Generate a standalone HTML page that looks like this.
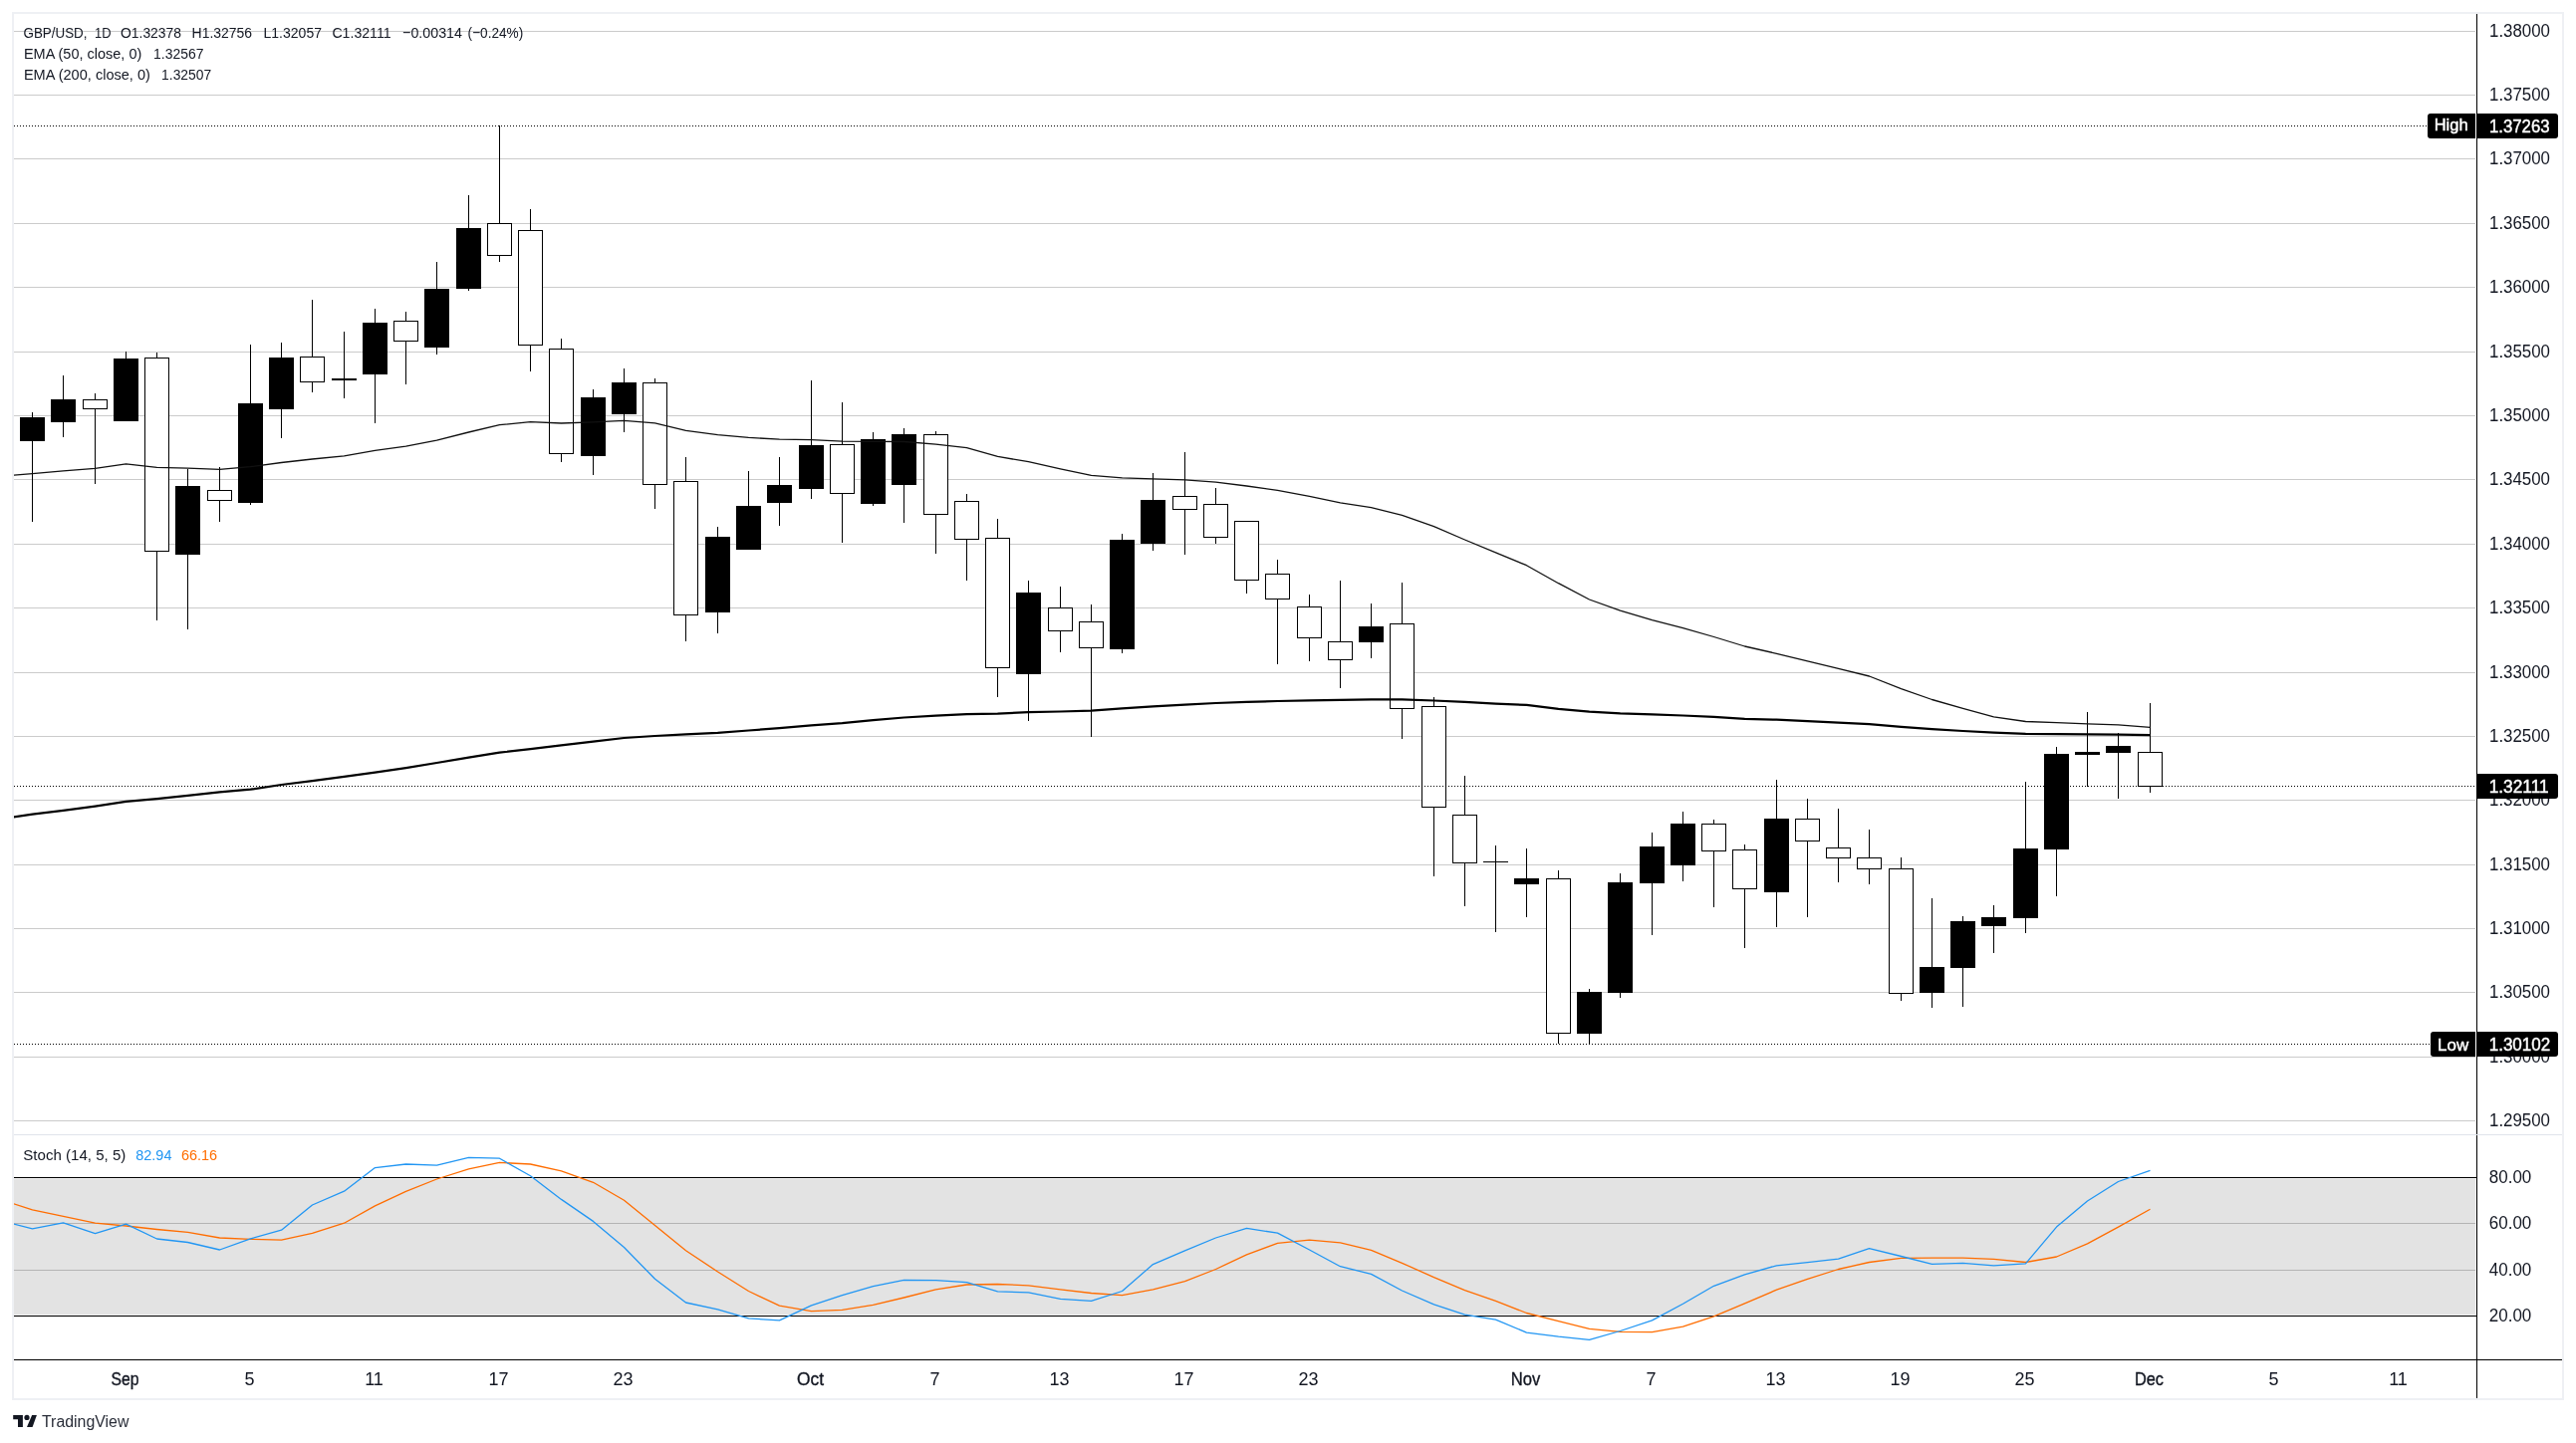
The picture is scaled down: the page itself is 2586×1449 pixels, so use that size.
<!DOCTYPE html><html><head><meta charset="utf-8"><title>GBP/USD chart</title>
<style>html,body{margin:0;padding:0;background:#fff;}body{width:2586px;height:1449px;overflow:hidden;}svg{display:block;will-change:transform;}text{font-family:"Liberation Sans", sans-serif;}</style></head><body>
<svg width="2586" height="1449" viewBox="0 0 2586 1449">
<rect x="0" y="0" width="2586" height="1449" fill="#ffffff"/>
<rect x="13" y="13" width="2560" height="1392" fill="none" stroke="#eef0f4" stroke-width="2"/>
<rect x="14" y="31" width="2471" height="1" fill="#cbcbcb"/>
<rect x="14" y="95" width="2471" height="1" fill="#cbcbcb"/>
<rect x="14" y="159" width="2471" height="1" fill="#cbcbcb"/>
<rect x="14" y="224" width="2471" height="1" fill="#cbcbcb"/>
<rect x="14" y="288" width="2471" height="1" fill="#cbcbcb"/>
<rect x="14" y="353" width="2471" height="1" fill="#cbcbcb"/>
<rect x="14" y="417" width="2471" height="1" fill="#cbcbcb"/>
<rect x="14" y="481" width="2471" height="1" fill="#cbcbcb"/>
<rect x="14" y="546" width="2471" height="1" fill="#cbcbcb"/>
<rect x="14" y="610" width="2471" height="1" fill="#cbcbcb"/>
<rect x="14" y="675" width="2471" height="1" fill="#cbcbcb"/>
<rect x="14" y="739" width="2471" height="1" fill="#cbcbcb"/>
<rect x="14" y="803" width="2471" height="1" fill="#cbcbcb"/>
<rect x="14" y="868" width="2471" height="1" fill="#cbcbcb"/>
<rect x="14" y="932" width="2471" height="1" fill="#cbcbcb"/>
<rect x="14" y="996" width="2471" height="1" fill="#cbcbcb"/>
<rect x="14" y="1061" width="2471" height="1" fill="#cbcbcb"/>
<rect x="14" y="1125" width="2471" height="1" fill="#cbcbcb"/>
<rect x="14" y="1139" width="2558" height="1" fill="#e0e3eb"/>
<rect x="14" y="1228" width="2471" height="1" fill="#cbcbcb"/>
<rect x="14" y="1275" width="2471" height="1" fill="#cbcbcb"/>
<rect x="14" y="1183.5" width="2471.5" height="137" fill="rgba(0,0,0,0.108)"/>
<rect x="14" y="1182" width="2472" height="1" fill="#000"/>
<rect x="14" y="1321" width="2472" height="1" fill="#000"/>
<rect x="14" y="1365" width="2558" height="1" fill="#000"/>
<rect x="2486" y="14" width="1" height="1125" fill="#000"/>
<rect x="2486" y="1140" width="1" height="264" fill="#000"/>
<defs><clipPath id="cm"><rect x="14" y="14" width="2472" height="1125"/></clipPath><clipPath id="cs"><rect x="14" y="1140" width="2472" height="225"/></clipPath></defs>
<g clip-path="url(#cm)">
<rect x="32" y="414" width="1" height="110" fill="#000"/>
<rect x="20" y="419" width="25" height="24" fill="#000"/>
<rect x="63" y="377" width="1" height="62" fill="#000"/>
<rect x="51" y="401" width="25" height="23" fill="#000"/>
<rect x="95" y="395" width="1" height="91" fill="#000"/>
<rect x="83" y="401" width="25" height="10" fill="#000"/>
<rect x="84" y="402" width="23" height="8" fill="#fff"/>
<rect x="126" y="353" width="1" height="70" fill="#000"/>
<rect x="114" y="360" width="25" height="63" fill="#000"/>
<rect x="157" y="354" width="1" height="269" fill="#000"/>
<rect x="145" y="359" width="25" height="195" fill="#000"/>
<rect x="146" y="360" width="23" height="193" fill="#fff"/>
<rect x="188" y="471" width="1" height="161" fill="#000"/>
<rect x="176" y="488" width="25" height="69" fill="#000"/>
<rect x="220" y="469" width="1" height="55" fill="#000"/>
<rect x="208" y="492" width="25" height="11" fill="#000"/>
<rect x="209" y="493" width="23" height="9" fill="#fff"/>
<rect x="251" y="346" width="1" height="161" fill="#000"/>
<rect x="239" y="405" width="25" height="100" fill="#000"/>
<rect x="282" y="344" width="1" height="96" fill="#000"/>
<rect x="270" y="359" width="25" height="52" fill="#000"/>
<rect x="313" y="301" width="1" height="93" fill="#000"/>
<rect x="301" y="358" width="25" height="26" fill="#000"/>
<rect x="302" y="359" width="23" height="24" fill="#fff"/>
<rect x="345" y="333" width="1" height="67" fill="#000"/>
<rect x="333" y="380" width="25" height="2" fill="#000"/>
<rect x="376" y="310" width="1" height="115" fill="#000"/>
<rect x="364" y="324" width="25" height="52" fill="#000"/>
<rect x="407" y="313" width="1" height="73" fill="#000"/>
<rect x="395" y="322" width="25" height="21" fill="#000"/>
<rect x="396" y="323" width="23" height="19" fill="#fff"/>
<rect x="438" y="263" width="1" height="93" fill="#000"/>
<rect x="426" y="290" width="25" height="59" fill="#000"/>
<rect x="470" y="196" width="1" height="96" fill="#000"/>
<rect x="458" y="229" width="25" height="61" fill="#000"/>
<rect x="501" y="126" width="1" height="137" fill="#000"/>
<rect x="489" y="224" width="25" height="33" fill="#000"/>
<rect x="490" y="225" width="23" height="31" fill="#fff"/>
<rect x="532" y="210" width="1" height="163" fill="#000"/>
<rect x="520" y="231" width="25" height="116" fill="#000"/>
<rect x="521" y="232" width="23" height="114" fill="#fff"/>
<rect x="563" y="340" width="1" height="124" fill="#000"/>
<rect x="551" y="350" width="25" height="106" fill="#000"/>
<rect x="552" y="351" width="23" height="104" fill="#fff"/>
<rect x="595" y="391" width="1" height="86" fill="#000"/>
<rect x="583" y="399" width="25" height="59" fill="#000"/>
<rect x="626" y="370" width="1" height="64" fill="#000"/>
<rect x="614" y="384" width="25" height="32" fill="#000"/>
<rect x="657" y="380" width="1" height="131" fill="#000"/>
<rect x="645" y="384" width="25" height="103" fill="#000"/>
<rect x="646" y="385" width="23" height="101" fill="#fff"/>
<rect x="688" y="459" width="1" height="185" fill="#000"/>
<rect x="676" y="483" width="25" height="135" fill="#000"/>
<rect x="677" y="484" width="23" height="133" fill="#fff"/>
<rect x="720" y="529" width="1" height="107" fill="#000"/>
<rect x="708" y="539" width="25" height="76" fill="#000"/>
<rect x="751" y="473" width="1" height="79" fill="#000"/>
<rect x="739" y="508" width="25" height="44" fill="#000"/>
<rect x="782" y="459" width="1" height="69" fill="#000"/>
<rect x="770" y="487" width="25" height="18" fill="#000"/>
<rect x="814" y="382" width="1" height="119" fill="#000"/>
<rect x="802" y="447" width="25" height="44" fill="#000"/>
<rect x="845" y="404" width="1" height="141" fill="#000"/>
<rect x="833" y="446" width="25" height="50" fill="#000"/>
<rect x="834" y="447" width="23" height="48" fill="#fff"/>
<rect x="876" y="434" width="1" height="74" fill="#000"/>
<rect x="864" y="441" width="25" height="65" fill="#000"/>
<rect x="907" y="430" width="1" height="95" fill="#000"/>
<rect x="895" y="436" width="25" height="51" fill="#000"/>
<rect x="939" y="433" width="1" height="123" fill="#000"/>
<rect x="927" y="436" width="25" height="81" fill="#000"/>
<rect x="928" y="437" width="23" height="79" fill="#fff"/>
<rect x="970" y="496" width="1" height="87" fill="#000"/>
<rect x="958" y="503" width="25" height="39" fill="#000"/>
<rect x="959" y="504" width="23" height="37" fill="#fff"/>
<rect x="1001" y="521" width="1" height="179" fill="#000"/>
<rect x="989" y="540" width="25" height="131" fill="#000"/>
<rect x="990" y="541" width="23" height="129" fill="#fff"/>
<rect x="1032" y="583" width="1" height="141" fill="#000"/>
<rect x="1020" y="595" width="25" height="82" fill="#000"/>
<rect x="1064" y="589" width="1" height="66" fill="#000"/>
<rect x="1052" y="610" width="25" height="24" fill="#000"/>
<rect x="1053" y="611" width="23" height="22" fill="#fff"/>
<rect x="1095" y="607" width="1" height="133" fill="#000"/>
<rect x="1083" y="624" width="25" height="27" fill="#000"/>
<rect x="1084" y="625" width="23" height="25" fill="#fff"/>
<rect x="1126" y="536" width="1" height="120" fill="#000"/>
<rect x="1114" y="542" width="25" height="110" fill="#000"/>
<rect x="1157" y="475" width="1" height="78" fill="#000"/>
<rect x="1145" y="502" width="25" height="44" fill="#000"/>
<rect x="1189" y="454" width="1" height="103" fill="#000"/>
<rect x="1177" y="498" width="25" height="14" fill="#000"/>
<rect x="1178" y="499" width="23" height="12" fill="#fff"/>
<rect x="1220" y="490" width="1" height="56" fill="#000"/>
<rect x="1208" y="506" width="25" height="34" fill="#000"/>
<rect x="1209" y="507" width="23" height="32" fill="#fff"/>
<rect x="1251" y="523" width="1" height="73" fill="#000"/>
<rect x="1239" y="523" width="25" height="60" fill="#000"/>
<rect x="1240" y="524" width="23" height="58" fill="#fff"/>
<rect x="1282" y="562" width="1" height="105" fill="#000"/>
<rect x="1270" y="576" width="25" height="26" fill="#000"/>
<rect x="1271" y="577" width="23" height="24" fill="#fff"/>
<rect x="1314" y="597" width="1" height="67" fill="#000"/>
<rect x="1302" y="609" width="25" height="32" fill="#000"/>
<rect x="1303" y="610" width="23" height="30" fill="#fff"/>
<rect x="1345" y="583" width="1" height="108" fill="#000"/>
<rect x="1333" y="644" width="25" height="19" fill="#000"/>
<rect x="1334" y="645" width="23" height="17" fill="#fff"/>
<rect x="1376" y="606" width="1" height="55" fill="#000"/>
<rect x="1364" y="629" width="25" height="16" fill="#000"/>
<rect x="1407" y="585" width="1" height="157" fill="#000"/>
<rect x="1395" y="626" width="25" height="86" fill="#000"/>
<rect x="1396" y="627" width="23" height="84" fill="#fff"/>
<rect x="1439" y="700" width="1" height="180" fill="#000"/>
<rect x="1427" y="709" width="25" height="102" fill="#000"/>
<rect x="1428" y="710" width="23" height="100" fill="#fff"/>
<rect x="1470" y="779" width="1" height="131" fill="#000"/>
<rect x="1458" y="818" width="25" height="49" fill="#000"/>
<rect x="1459" y="819" width="23" height="47" fill="#fff"/>
<rect x="1501" y="849" width="1" height="87" fill="#000"/>
<rect x="1489" y="865" width="25" height="1" fill="#000"/>
<rect x="1532" y="852" width="1" height="69" fill="#000"/>
<rect x="1520" y="882" width="25" height="6" fill="#000"/>
<rect x="1564" y="874" width="1" height="174" fill="#000"/>
<rect x="1552" y="882" width="25" height="156" fill="#000"/>
<rect x="1553" y="883" width="23" height="154" fill="#fff"/>
<rect x="1595" y="993" width="1" height="55" fill="#000"/>
<rect x="1583" y="996" width="25" height="42" fill="#000"/>
<rect x="1626" y="877" width="1" height="125" fill="#000"/>
<rect x="1614" y="886" width="25" height="111" fill="#000"/>
<rect x="1658" y="836" width="1" height="103" fill="#000"/>
<rect x="1646" y="850" width="25" height="37" fill="#000"/>
<rect x="1689" y="815" width="1" height="70" fill="#000"/>
<rect x="1677" y="827" width="25" height="42" fill="#000"/>
<rect x="1720" y="823" width="1" height="88" fill="#000"/>
<rect x="1708" y="827" width="25" height="28" fill="#000"/>
<rect x="1709" y="828" width="23" height="26" fill="#fff"/>
<rect x="1751" y="848" width="1" height="104" fill="#000"/>
<rect x="1739" y="853" width="25" height="40" fill="#000"/>
<rect x="1740" y="854" width="23" height="38" fill="#fff"/>
<rect x="1783" y="783" width="1" height="148" fill="#000"/>
<rect x="1771" y="822" width="25" height="74" fill="#000"/>
<rect x="1814" y="802" width="1" height="119" fill="#000"/>
<rect x="1802" y="822" width="25" height="23" fill="#000"/>
<rect x="1803" y="823" width="23" height="21" fill="#fff"/>
<rect x="1845" y="812" width="1" height="74" fill="#000"/>
<rect x="1833" y="851" width="25" height="11" fill="#000"/>
<rect x="1834" y="852" width="23" height="9" fill="#fff"/>
<rect x="1876" y="833" width="1" height="55" fill="#000"/>
<rect x="1864" y="861" width="25" height="12" fill="#000"/>
<rect x="1865" y="862" width="23" height="10" fill="#fff"/>
<rect x="1908" y="861" width="1" height="144" fill="#000"/>
<rect x="1896" y="872" width="25" height="126" fill="#000"/>
<rect x="1897" y="873" width="23" height="124" fill="#fff"/>
<rect x="1939" y="902" width="1" height="110" fill="#000"/>
<rect x="1927" y="971" width="25" height="26" fill="#000"/>
<rect x="1970" y="920" width="1" height="91" fill="#000"/>
<rect x="1958" y="925" width="25" height="47" fill="#000"/>
<rect x="2001" y="909" width="1" height="48" fill="#000"/>
<rect x="1989" y="921" width="25" height="9" fill="#000"/>
<rect x="2033" y="785" width="1" height="152" fill="#000"/>
<rect x="2021" y="852" width="25" height="70" fill="#000"/>
<rect x="2064" y="750" width="1" height="150" fill="#000"/>
<rect x="2052" y="757" width="25" height="96" fill="#000"/>
<rect x="2095" y="715" width="1" height="75" fill="#000"/>
<rect x="2083" y="755" width="25" height="3" fill="#000"/>
<rect x="2126" y="736" width="1" height="66" fill="#000"/>
<rect x="2114" y="749" width="25" height="7" fill="#000"/>
<rect x="2158" y="706" width="1" height="90" fill="#000"/>
<rect x="2146" y="755" width="25" height="35" fill="#000"/>
<rect x="2147" y="756" width="23" height="33" fill="#fff"/>
<polyline points="1.5,822.0 32.5,817.7 63.5,813.8 95.5,809.6 126.5,804.9 157.5,802.1 188.5,798.9 220.5,795.3 251.5,792.7 282.5,788.0 313.5,784.1 345.5,779.9 376.5,775.7 407.5,771.1 438.5,766.0 470.5,760.7 501.5,755.7 532.5,752.2 563.5,748.3 595.5,744.6 626.5,741.0 657.5,739.0 688.5,737.4 720.5,735.8 751.5,733.5 782.5,731.2 814.5,728.4 845.5,726.1 876.5,723.1 907.5,720.5 939.5,718.7 970.5,717.1 1001.5,716.6 1032.5,715.2 1064.5,714.5 1095.5,713.6 1126.5,711.4 1157.5,709.3 1189.5,707.7 1220.5,706.0 1251.5,704.9 1282.5,704.0 1314.5,703.3 1345.5,702.8 1376.5,702.4 1407.5,702.3 1439.5,703.5 1470.5,704.9 1501.5,706.6 1532.5,707.9 1564.5,711.9 1595.5,714.7 1626.5,716.4 1658.5,717.4 1689.5,718.5 1720.5,719.9 1751.5,721.8 1783.5,722.7 1814.5,724.1 1845.5,725.7 1876.5,727.1 1908.5,729.8 1939.5,732.2 1970.5,734.0 2001.5,735.7 2033.5,736.8 2064.5,737.1 2095.5,737.4 2126.5,737.6 2158.5,738.1" fill="none" stroke="#000" stroke-width="2.2" stroke-linejoin="round"/>
<polyline points="1.5,478.0 32.5,475.7 63.5,472.9 95.5,470.4 126.5,465.9 157.5,469.4 188.5,470.2 220.5,471.4 251.5,468.7 282.5,464.5 313.5,461.0 345.5,457.9 376.5,452.4 407.5,448.2 438.5,442.1 470.5,434.0 501.5,426.7 532.5,423.7 563.5,425.0 595.5,423.9 626.5,422.4 657.5,424.8 688.5,432.4 720.5,436.6 751.5,439.4 782.5,441.2 814.5,441.6 845.5,443.2 876.5,443.4 907.5,443.5 939.5,446.1 970.5,449.6 1001.5,458.4 1032.5,463.7 1064.5,470.8 1095.5,477.3 1126.5,479.8 1157.5,480.8 1189.5,481.9 1220.5,484.1 1251.5,488.0 1282.5,492.4 1314.5,498.4 1345.5,504.8 1376.5,509.6 1407.5,517.3 1439.5,528.6 1470.5,542.0 1501.5,554.9 1532.5,567.7 1564.5,585.7 1595.5,602.0 1626.5,613.2 1658.5,622.6 1689.5,630.6 1720.5,639.5 1751.5,649.0 1783.5,656.3 1814.5,663.8 1845.5,671.4 1876.5,679.0 1908.5,691.6 1939.5,702.5 1970.5,711.3 2001.5,719.8 2033.5,724.5 2064.5,725.7 2095.5,726.9 2126.5,727.9 2158.5,730.4" fill="none" stroke="#111" stroke-width="1.3" stroke-linejoin="round"/>
<line x1="14" y1="126.5" x2="2437" y2="126.5" stroke="#000" stroke-width="1" stroke-dasharray="1 2"/>
<line x1="14" y1="789.5" x2="2486" y2="789.5" stroke="#000" stroke-width="1" stroke-dasharray="1 2"/>
<line x1="14" y1="1048.5" x2="2440" y2="1048.5" stroke="#000" stroke-width="1" stroke-dasharray="1 2"/>
</g>
<g clip-path="url(#cs)">
<polyline points="1.5,1204.7 32.5,1214.9 63.5,1221.3 95.5,1228.2 126.5,1231.0 157.5,1234.5 188.5,1237.4 220.5,1243.0 251.5,1244.3 282.5,1245.2 313.5,1238.3 345.5,1228.2 376.5,1210.9 407.5,1196.3 438.5,1184.0 470.5,1173.9 501.5,1167.4 532.5,1169.0 563.5,1175.9 595.5,1187.3 626.5,1205.2 657.5,1230.5 688.5,1255.8 720.5,1277.0 751.5,1296.5 782.5,1311.2 814.5,1316.6 845.5,1315.3 876.5,1310.4 907.5,1303.0 939.5,1294.9 970.5,1290.0 1001.5,1289.5 1032.5,1290.8 1064.5,1294.9 1095.5,1298.5 1126.5,1300.6 1157.5,1294.9 1189.5,1286.7 1220.5,1274.5 1251.5,1259.8 1282.5,1248.4 1314.5,1245.2 1345.5,1247.9 1376.5,1255.3 1407.5,1268.3 1439.5,1282.7 1470.5,1295.7 1501.5,1306.3 1532.5,1318.5 1564.5,1326.7 1595.5,1334.4 1626.5,1337.3 1658.5,1337.6 1689.5,1332.1 1720.5,1321.8 1751.5,1308.8 1783.5,1295.2 1814.5,1284.3 1845.5,1274.5 1876.5,1267.5 1908.5,1263.4 1939.5,1263.1 1970.5,1263.1 2001.5,1264.4 2033.5,1267.5 2064.5,1262.0 2095.5,1248.9 2126.5,1232.1 2158.5,1214.2" fill="none" stroke="#ff6d00" stroke-width="1.3" stroke-linejoin="round"/>
<polyline points="1.5,1226.0 32.5,1233.9 63.5,1227.9 95.5,1238.6 126.5,1229.1 157.5,1244.0 188.5,1247.5 220.5,1255.0 251.5,1243.8 282.5,1235.2 313.5,1210.0 345.5,1196.2 376.5,1172.6 407.5,1169.0 438.5,1170.2 470.5,1162.3 501.5,1163.2 532.5,1180.8 563.5,1204.4 595.5,1226.4 626.5,1252.5 657.5,1284.3 688.5,1308.0 720.5,1314.8 751.5,1323.9 782.5,1325.9 814.5,1310.9 845.5,1300.6 876.5,1291.6 907.5,1285.4 939.5,1285.6 970.5,1287.6 1001.5,1296.9 1032.5,1297.8 1064.5,1304.4 1095.5,1306.3 1126.5,1296.5 1157.5,1269.6 1189.5,1255.8 1220.5,1243.0 1251.5,1233.3 1282.5,1238.2 1314.5,1255.0 1345.5,1271.7 1376.5,1279.4 1407.5,1296.0 1439.5,1309.9 1470.5,1320.2 1501.5,1325.1 1532.5,1338.1 1564.5,1342.2 1595.5,1345.4 1626.5,1336.5 1658.5,1325.9 1689.5,1309.2 1720.5,1291.3 1751.5,1279.9 1783.5,1270.8 1814.5,1267.7 1845.5,1264.2 1876.5,1253.6 1908.5,1261.5 1939.5,1269.3 1970.5,1268.4 2001.5,1270.8 2033.5,1268.8 2064.5,1232.1 2095.5,1206.0 2126.5,1186.5 2158.5,1175.3" fill="none" stroke="#2196f3" stroke-width="1.3" stroke-linejoin="round"/>
</g>
<text x="23.5" y="38.0" font-size="15.5" fill="#131722" textLength="64.0" lengthAdjust="spacingAndGlyphs">GBP/USD,</text>
<text x="95.0" y="38.0" font-size="15.5" fill="#131722" textLength="16.5" lengthAdjust="spacingAndGlyphs">1D</text>
<text x="121.0" y="38.0" font-size="15.5" fill="#131722" textLength="61.0" lengthAdjust="spacingAndGlyphs">O1.32378</text>
<text x="192.6" y="38.0" font-size="15.5" fill="#131722" textLength="60.5" lengthAdjust="spacingAndGlyphs">H1.32756</text>
<text x="264.5" y="38.0" font-size="15.5" fill="#131722" textLength="58.5" lengthAdjust="spacingAndGlyphs">L1.32057</text>
<text x="333.4" y="38.0" font-size="15.5" fill="#131722" textLength="59.2" lengthAdjust="spacingAndGlyphs">C1.32111</text>
<text x="404.1" y="38.0" font-size="15.5" fill="#131722" textLength="59.9" lengthAdjust="spacingAndGlyphs">−0.00314</text>
<text x="469.6" y="38.0" font-size="15.5" fill="#131722" textLength="55.6" lengthAdjust="spacingAndGlyphs">(−0.24%)</text>
<text x="23.9" y="59.0" font-size="15.5" fill="#131722" textLength="118.4" lengthAdjust="spacingAndGlyphs">EMA (50, close, 0)</text>
<text x="154.0" y="59.0" font-size="15.5" fill="#131722" textLength="50.4" lengthAdjust="spacingAndGlyphs">1.32567</text>
<text x="23.9" y="80.0" font-size="15.5" fill="#131722" textLength="127.0" lengthAdjust="spacingAndGlyphs">EMA (200, close, 0)</text>
<text x="162.1" y="80.0" font-size="15.5" fill="#131722" textLength="50.1" lengthAdjust="spacingAndGlyphs">1.32507</text>
<text x="23.3" y="1165.0" font-size="15.5" fill="#131722" textLength="103.1" lengthAdjust="spacingAndGlyphs">Stoch (14, 5, 5)</text>
<text x="136.2" y="1165.0" font-size="15.5" fill="#2196f3" textLength="36.3" lengthAdjust="spacingAndGlyphs">82.94</text>
<text x="181.9" y="1165.0" font-size="15.5" fill="#ff6d00" textLength="36.2" lengthAdjust="spacingAndGlyphs">66.16</text>
<text x="2499.0" y="36.8" font-size="17.6" fill="#131722" textLength="61.0" lengthAdjust="spacingAndGlyphs">1.38000</text>
<text x="2499.0" y="100.8" font-size="17.6" fill="#131722" textLength="61.0" lengthAdjust="spacingAndGlyphs">1.37500</text>
<text x="2499.0" y="164.8" font-size="17.6" fill="#131722" textLength="61.0" lengthAdjust="spacingAndGlyphs">1.37000</text>
<text x="2499.0" y="229.8" font-size="17.6" fill="#131722" textLength="61.0" lengthAdjust="spacingAndGlyphs">1.36500</text>
<text x="2499.0" y="293.8" font-size="17.6" fill="#131722" textLength="61.0" lengthAdjust="spacingAndGlyphs">1.36000</text>
<text x="2499.0" y="358.8" font-size="17.6" fill="#131722" textLength="61.0" lengthAdjust="spacingAndGlyphs">1.35500</text>
<text x="2499.0" y="422.8" font-size="17.6" fill="#131722" textLength="61.0" lengthAdjust="spacingAndGlyphs">1.35000</text>
<text x="2499.0" y="486.8" font-size="17.6" fill="#131722" textLength="61.0" lengthAdjust="spacingAndGlyphs">1.34500</text>
<text x="2499.0" y="551.8" font-size="17.6" fill="#131722" textLength="61.0" lengthAdjust="spacingAndGlyphs">1.34000</text>
<text x="2499.0" y="615.8" font-size="17.6" fill="#131722" textLength="61.0" lengthAdjust="spacingAndGlyphs">1.33500</text>
<text x="2499.0" y="680.8" font-size="17.6" fill="#131722" textLength="61.0" lengthAdjust="spacingAndGlyphs">1.33000</text>
<text x="2499.0" y="744.8" font-size="17.6" fill="#131722" textLength="61.0" lengthAdjust="spacingAndGlyphs">1.32500</text>
<text x="2499.0" y="808.8" font-size="17.6" fill="#131722" textLength="61.0" lengthAdjust="spacingAndGlyphs">1.32000</text>
<text x="2499.0" y="873.8" font-size="17.6" fill="#131722" textLength="61.0" lengthAdjust="spacingAndGlyphs">1.31500</text>
<text x="2499.0" y="937.8" font-size="17.6" fill="#131722" textLength="61.0" lengthAdjust="spacingAndGlyphs">1.31000</text>
<text x="2499.0" y="1001.8" font-size="17.6" fill="#131722" textLength="61.0" lengthAdjust="spacingAndGlyphs">1.30500</text>
<text x="2499.0" y="1066.8" font-size="17.6" fill="#131722" textLength="61.0" lengthAdjust="spacingAndGlyphs">1.30000</text>
<text x="2499.0" y="1130.8" font-size="17.6" fill="#131722" textLength="61.0" lengthAdjust="spacingAndGlyphs">1.29500</text>
<text x="2498.8" y="1187.8" font-size="17.6" fill="#131722" textLength="42.5" lengthAdjust="spacingAndGlyphs">80.00</text>
<text x="2498.8" y="1233.8" font-size="17.6" fill="#131722" textLength="42.5" lengthAdjust="spacingAndGlyphs">60.00</text>
<text x="2498.8" y="1280.8" font-size="17.6" fill="#131722" textLength="42.5" lengthAdjust="spacingAndGlyphs">40.00</text>
<text x="2498.8" y="1326.8" font-size="17.6" fill="#131722" textLength="42.5" lengthAdjust="spacingAndGlyphs">20.00</text>
<text x="111.5" y="1390.6" font-size="18.0" fill="#131722" textLength="28.0" lengthAdjust="spacingAndGlyphs" stroke="#131722" stroke-width="0.35">Sep</text>
<text x="250.5" y="1390.6" font-size="18.0" fill="#131722" text-anchor="middle">5</text>
<text x="375.5" y="1390.6" font-size="18.0" fill="#131722" text-anchor="middle">11</text>
<text x="500.5" y="1390.6" font-size="18.0" fill="#131722" text-anchor="middle">17</text>
<text x="625.5" y="1390.6" font-size="18.0" fill="#131722" text-anchor="middle">23</text>
<text x="800.0" y="1390.6" font-size="18.0" fill="#131722" textLength="27.0" lengthAdjust="spacingAndGlyphs" stroke="#131722" stroke-width="0.35">Oct</text>
<text x="938.5" y="1390.6" font-size="18.0" fill="#131722" text-anchor="middle">7</text>
<text x="1063.5" y="1390.6" font-size="18.0" fill="#131722" text-anchor="middle">13</text>
<text x="1188.5" y="1390.6" font-size="18.0" fill="#131722" text-anchor="middle">17</text>
<text x="1313.5" y="1390.6" font-size="18.0" fill="#131722" text-anchor="middle">23</text>
<text x="1516.8" y="1390.6" font-size="18.0" fill="#131722" textLength="29.5" lengthAdjust="spacingAndGlyphs" stroke="#131722" stroke-width="0.35">Nov</text>
<text x="1657.5" y="1390.6" font-size="18.0" fill="#131722" text-anchor="middle">7</text>
<text x="1782.5" y="1390.6" font-size="18.0" fill="#131722" text-anchor="middle">13</text>
<text x="1907.5" y="1390.6" font-size="18.0" fill="#131722" text-anchor="middle">19</text>
<text x="2032.5" y="1390.6" font-size="18.0" fill="#131722" text-anchor="middle">25</text>
<text x="2143.0" y="1390.6" font-size="18.0" fill="#131722" textLength="29.0" lengthAdjust="spacingAndGlyphs" stroke="#131722" stroke-width="0.35">Dec</text>
<text x="2282.5" y="1390.6" font-size="18.0" fill="#131722" text-anchor="middle">5</text>
<text x="2407.5" y="1390.6" font-size="18.0" fill="#131722" text-anchor="middle">11</text>
<path d="M2440,114 H2485 V139 H2440 Q2437,139 2437,136 V117 Q2437,114 2440,114 Z" fill="#000"/>
<path d="M2487,114 H2565 Q2568,114 2568,117 V136 Q2568,139 2565,139 H2487 Z" fill="#000"/>
<text x="2443.7" y="130.8" font-size="17.4" fill="#fff" textLength="33.9" lengthAdjust="spacingAndGlyphs" stroke="#fff" stroke-width="0.45">High</text>
<text x="2499.0" y="133.2" font-size="17.6" fill="#fff" textLength="60.5" lengthAdjust="spacingAndGlyphs" stroke="#fff" stroke-width="0.45">1.37263</text>
<path d="M2486,777 H2565 Q2568,777 2568,780 V799 Q2568,802 2565,802 H2486 Z" fill="#000"/>
<text x="2498.7" y="795.6" font-size="17.6" fill="#fff" textLength="60.0" lengthAdjust="spacingAndGlyphs" stroke="#fff" stroke-width="0.45">1.32111</text>
<path d="M2443,1036 H2485 V1061 H2443 Q2440,1061 2440,1058 V1039 Q2440,1036 2443,1036 Z" fill="#000"/>
<path d="M2487,1036 H2565 Q2568,1036 2568,1039 V1058 Q2568,1061 2565,1061 H2487 Z" fill="#000"/>
<text x="2447.1" y="1054.5" font-size="17.4" fill="#fff" textLength="31.1" lengthAdjust="spacingAndGlyphs" stroke="#fff" stroke-width="0.45">Low</text>
<text x="2498.7" y="1054.5" font-size="17.6" fill="#fff" textLength="61.6" lengthAdjust="spacingAndGlyphs" stroke="#fff" stroke-width="0.45">1.30102</text>
<g fill="#131722"><path d="M13.2,1421 H22.9 V1433 H18 V1425.3 H13.2 Z"/><circle cx="27" cy="1423.4" r="2.6"/><path d="M32.1,1421 H36.9 L32.6,1433 H27 Z"/></g>
<text x="42.0" y="1432.9" font-size="15.6" fill="#2a2e39" textLength="87.4" lengthAdjust="spacingAndGlyphs">TradingView</text>
</svg></body></html>
